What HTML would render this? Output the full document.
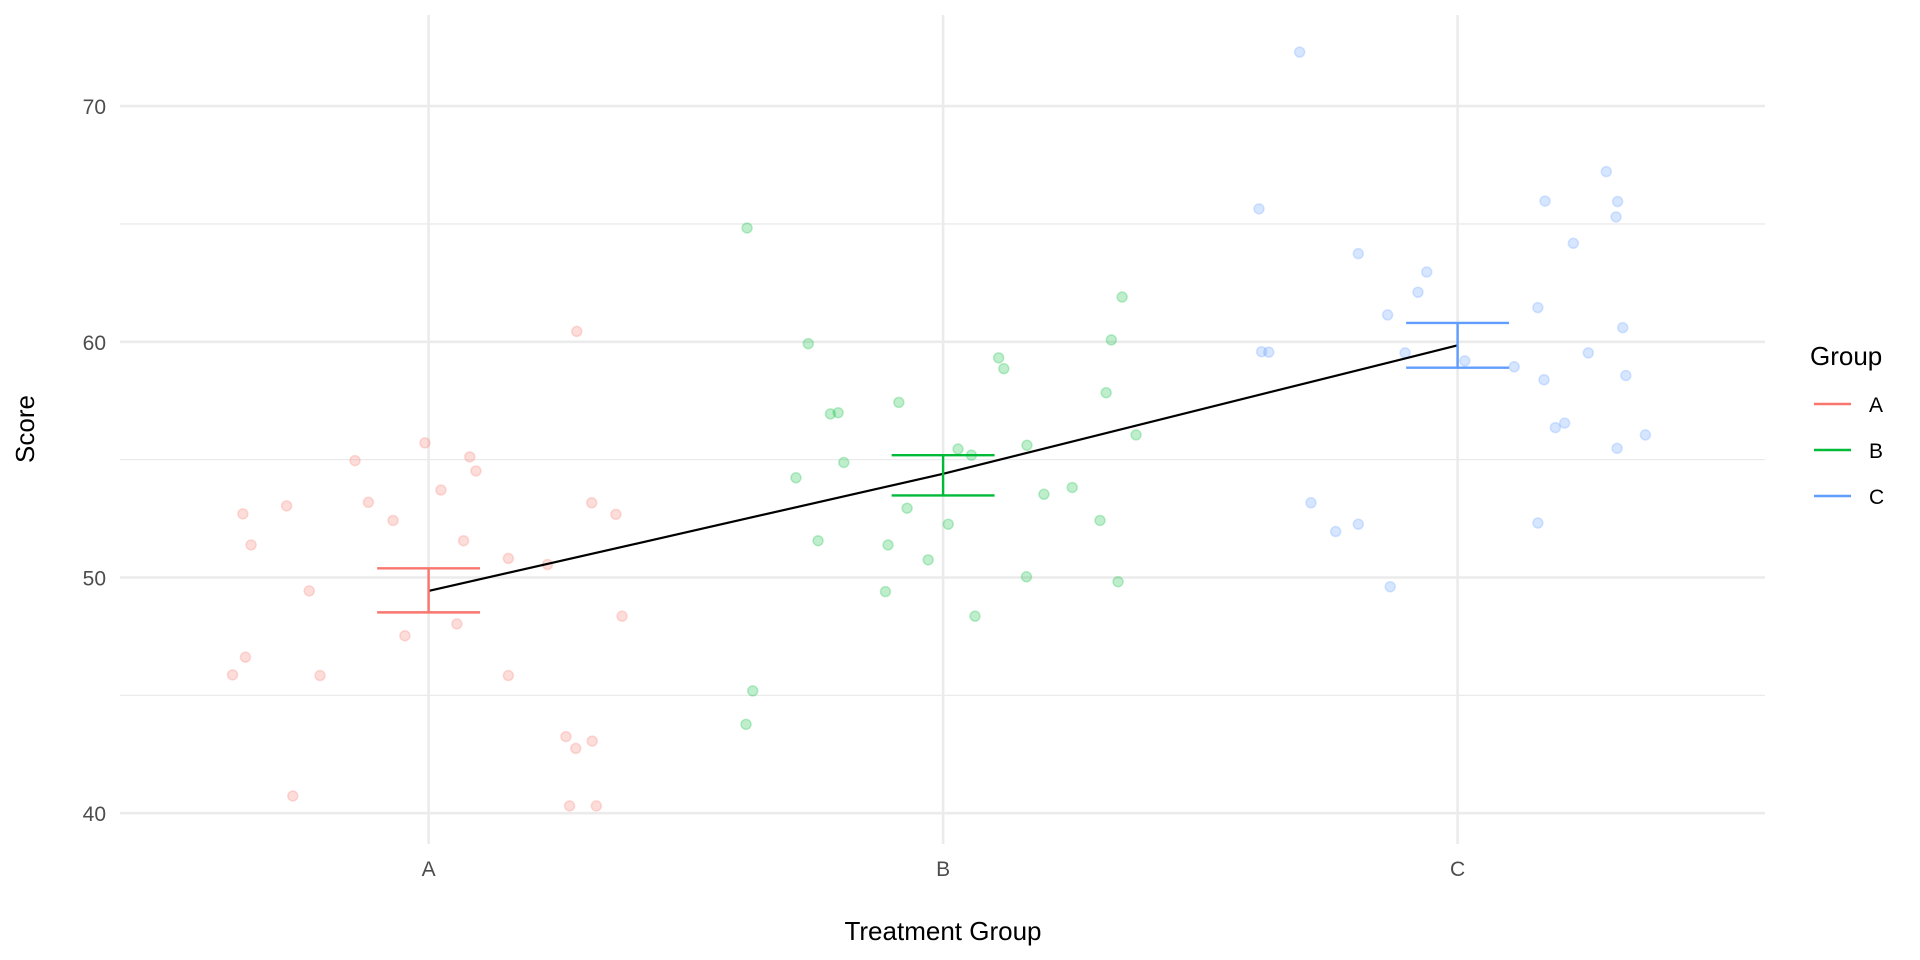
<!DOCTYPE html>
<html><head><meta charset="utf-8"><style>
html,body{margin:0;padding:0;background:#fff;}
svg{display:block;font-family:"Liberation Sans",Arial,sans-serif;}
</style></head><body>
<svg id="chart" width="1920" height="960" viewBox="0 0 1920 960" xmlns="http://www.w3.org/2000/svg">
<g id="grid"></g>
<g id="points"></g>
<g id="bars"></g>
<g id="axes"></g>
<text x="0" y="0" transform="translate(34,429) rotate(-90)" text-anchor="middle" font-size="26" fill="#000">Score</text>
<text x="943" y="940" text-anchor="middle" font-size="26" fill="#000">Treatment Group</text>
<g id="legend">
<text x="1810" y="365" font-size="26" fill="#000">Group</text>
</g>
</svg>
<script>
const categories = ["A","B","C"];
const colors = ["#F8766D","#00BA38","#619CFF"];
const yTicks = [40,50,60,70];
const yMinor = [45,55,65];
const groupMeans = [49.43, 54.4, 59.85];
const groupLow = [48.52, 53.48, 58.9];
const groupHigh = [50.39, 55.19, 60.8];
const ptsA = [[-0.361,52.70],[-0.345,51.38],[-0.276,53.04],[-0.232,49.43],[-0.381,45.87],[-0.356,46.62],[-0.211,45.84],[-0.264,40.73],[-0.143,54.96],[-0.117,53.19],[-0.069,52.42],[-0.007,55.71],[0.024,53.71],[0.068,51.56],[0.080,55.12],[0.092,54.52],[-0.046,47.53],[0.055,48.03],[0.155,50.81],[0.155,45.84],[0.231,50.55],[0.288,60.44],[0.317,53.17],[0.364,52.68],[0.376,48.36],[0.267,43.25],[0.286,42.75],[0.318,43.06],[0.274,40.31],[0.326,40.31]];
const ptsB = [[-0.381,64.83],[-0.262,59.92],[-0.219,56.94],[-0.204,56.99],[-0.086,57.43],[-0.286,54.23],[-0.193,54.88],[-0.243,51.56],[-0.107,51.38],[-0.070,52.94],[0.010,52.26],[-0.029,50.75],[-0.112,49.40],[-0.370,45.19],[-0.383,43.77],[0.029,55.45],[0.055,55.19],[0.108,59.32],[0.118,58.86],[0.163,55.61],[0.196,53.53],[0.251,53.82],[0.305,52.42],[0.317,57.84],[0.327,60.08],[0.348,61.90],[0.375,56.05],[0.162,50.03],[0.340,49.82],[0.062,48.36]];
const ptsC = [[-0.307,72.29],[-0.386,65.64],[-0.193,63.74],[-0.060,62.96],[-0.077,62.10],[-0.136,61.14],[-0.381,59.58],[-0.367,59.56],[-0.102,59.53],[0.014,59.19],[-0.285,53.17],[-0.237,51.95],[-0.193,52.26],[-0.131,49.61],[0.289,67.22],[0.170,65.97],[0.311,65.95],[0.308,65.30],[0.225,64.18],[0.156,61.45],[0.321,60.60],[0.254,59.53],[0.110,58.94],[0.168,58.39],[0.327,58.57],[0.190,56.36],[0.208,56.55],[0.365,56.05],[0.310,55.48],[0.156,52.31]];
const allPts = [ptsA, ptsB, ptsC];

const NS = "http://www.w3.org/2000/svg";
const xs = c => 428.6 + c*514.5;
const ys = v => 813.2 - (v-40)*23.57;
const L=120, R=1765, T=15, B=844;
function mk(tag, attrs, parent){const e=document.createElementNS(NS,tag);for(const k in attrs)e.setAttribute(k,attrs[k]);parent.appendChild(e);return e;}
const grid=document.getElementById("grid"), pg=document.getElementById("points"), bg=document.getElementById("bars"), ag=document.getElementById("axes"), lg=document.getElementById("legend");

yMinor.forEach(v=>{
  const l=mk("line",{x1:L,x2:R,y1:ys(v),y2:ys(v),stroke:"#ebebeb","stroke-width":1.3},grid);
  
  
});
yTicks.forEach(v=>{
  const l=mk("line",{x1:L,x2:R,y1:ys(v),y2:ys(v),stroke:"#ebebeb","stroke-width":2.6},grid);
  
  
  const t=mk("text",{x:106,y:ys(v)+8,"text-anchor":"end","font-size":21,fill:"#4d4d4d"},ag);
  t.textContent=v;
  
  
});
categories.forEach((c,i)=>{
  const l=mk("line",{x1:xs(i),x2:xs(i),y1:T,y2:B,stroke:"#ebebeb","stroke-width":2.6},grid);
  
  
  const t=mk("text",{x:xs(i),y:876,"text-anchor":"middle","font-size":21,fill:"#4d4d4d"},ag);
  t.textContent=c;
  
  
});
allPts.forEach((arr,i)=>{
  arr.forEach(p=>{
    const c=mk("circle",{cx:xs(i+p[0]),cy:ys(p[1]),r:5,fill:colors[i],"fill-opacity":0.25,stroke:colors[i],"stroke-opacity":0.25,"stroke-width":1.5},pg);
    
    
  });
});
// mean line
const pl=mk("polyline",{points:groupMeans.map((m,i)=>xs(i)+","+ys(m)).join(" "),fill:"none",stroke:"#000","stroke-width":2.2},bg);


categories.forEach((c,i)=>{
  const g=mk("g",{stroke:colors[i],"stroke-width":2.4,fill:"none"},bg);
  
  
  const w=0.1;
  mk("line",{x1:xs(i-w),x2:xs(i+w),y1:ys(groupHigh[i]),y2:ys(groupHigh[i])},g);
  mk("line",{x1:xs(i-w),x2:xs(i+w),y1:ys(groupLow[i]),y2:ys(groupLow[i])},g);
  mk("line",{x1:xs(i),x2:xs(i),y1:ys(groupHigh[i]),y2:ys(groupLow[i])},g);
  const ly=404+i*46;
  const ll=mk("line",{x1:1814,x2:1851,y1:ly,y2:ly,stroke:colors[i],"stroke-width":2.4},lg);
  
  
  const lt=mk("text",{x:1869,y:ly+8,"font-size":21,fill:"#000"},lg);
  lt.textContent=c;
  
  
});
</script>
</body></html>
